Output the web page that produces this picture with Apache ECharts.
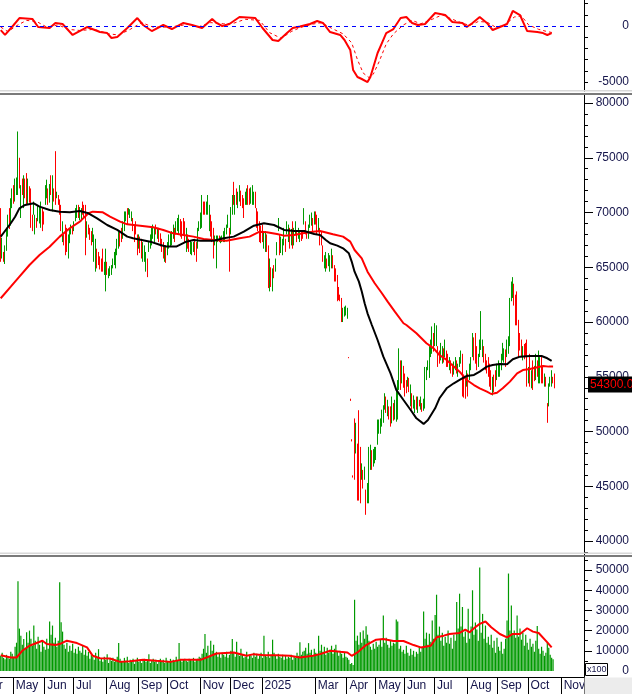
<!DOCTYPE html>
<html><head><meta charset="utf-8">
<script src="https://cdn.jsdelivr.net/npm/echarts@6/dist/echarts.min.js"></script>
<style>html,body{margin:0;padding:0;background:#fff;}#c{width:632px;height:694px;}</style>
</head><body><div id="c"></div>
<script>
// ---------- categories (trading sessions per month) ----------
const monthLabels = ['Apr','May','Jun','Jul','Aug','Sep','Oct','Nov','Dec','2025','Feb','Mar','Apr','May','Jun','Jul','Aug','Sep','Oct','Nov'];
const sessionsPerMonth = [9,22,20,23,22,20,23,21,22,17,20,22,20,20,21,23,21,21,23,16];
const unlabelledMonths = ['Feb'];

// ---------- tick labels ----------
const macdTickLabels = [0, -5000];
const macdTicks = [2000, 1000, 0, -1000, -2000, -3000, -4000, -5000];
const priceTickLabels = [40000, 45000, 50000, 55000, 60000, 65000, 70000, 75000, 80000];
const priceMinorTicks = [39000,41000,42000,43000,44000,46000,47000,48000,49000,51000,52000,53000,54000,56000,57000,58000,59000,61000,62000,63000,64000,66000,67000,68000,69000,71000,72000,73000,74000,76000,77000,78000,79000];
const volumeTickLabels = [0, 10000, 20000, 30000, 40000, 50000];
const volumeMinorTicks = [5000, 15000, 25000, 35000, 45000, 55000];

// ---------- price bars [open, close, low, high] ----------
const barsA = [
[70000,65800,65500,70400],[65900,67500,65800,67700],[66300,65600,65500,66400],[65400,66900,65300,67000],
[66600,68500,66500,68600],[67900,69600,67800,69800],[70200,68700,68500,70400],[68900,71100,68800,71300],
[70500,72000,70400,72200],[72300,71000,70800,72500],[71100,72900,71000,73100],[71700,73000,71600,73200],
[71800,75600,71600,77400],[74800,72400,72200,75000]];
const barsB = [
[69600,72400,69500,72500],[73000,71700,71600,73100],[70500,73300,70400,73400],[73000,71400,71300,73100],[73500,70800,70700,73600],[70800,73000,70700,73100],[72300,71000,70900,72400],
[72100,68700,68600,72200],[69700,68400,68300,69800],[69900,70900,69800,71000],[68100,69700,68000,69800],[69400,68700,68600,69500],[69300,70600,69200,70700],[69100,70400,69000,70500],
[68700,70900,68600,71000],[70300,68400,68300,70400],[70000,69000,68900,70100],[70800,72400,70700,72500],[71400,72900,71300,73000],[72100,70800,70700,72200],[71000,72500,70900,72600],
[73300,71700,71600,73400],[70200,73300,70100,73400],[72100,71100,71000,72200],[73000,70900,70700,75600],[71400,71800,71300,71900],[71500,70800,70700,71600],[71100,69900,69800,71200],
[70600,68400,68300,70700],[67400,69100,67300,69200],[67900,67100,67000,68000],[68800,66200,66100,68900],[68500,66500,66400,68600],[65900,67900,65800,68000],[67300,68500,67200,68600],
[68100,68800,68000,68900],[68600,68100,68000,68700],[68400,69100,68300,69200],[69300,70300,69200,70400],[69600,70600,69500,70700],[70600,69600,69500,70700],[69400,70400,69300,70500],
[69300,70300,69200,70400],[70900,69900,69800,71000],[70600,69600,69500,70700],[70400,66300,66100,70700],[67800,69100,67700,69200],[68800,68100,68000,68900],[68500,67600,67500,68600],
[68200,67100,67000,68300],[67400,68500,67300,68600],[65600,67900,65500,68000],[64700,67500,64600,67600],[66600,65000,64900,66700],[66300,65300,65200,66400],[65900,64900,64800,66000],
[65700,64700,64600,65800],[66600,64700,64600,66700],[64400,65400,64300,65500],[63000,66600,62800,66700],[65400,64400,64300,65500],[64100,64800,64000,64900],[64300,65000,64200,65100],
[64400,65100,64300,65200],[65000,65700,64900,65800],[65300,66300,65200,66400],[65000,66600,64900,66700],[66200,67500,66100,67600],[66800,68200,66700,68300],[68200,67000,66900,68300],
[68500,67400,67300,68600],[67700,69100,67600,69200],[68400,70000,68300,70100],[69300,70000,69200,70100],[70300,69000,68900,70400],[69900,70300,69800,70400],[69600,70200,69500,70300],
[69300,70000,69200,70100],[69400,68400,68300,69500],[68800,67400,67300,68900],[69100,68100,68000,69200],[67900,66200,66100,68000],[66800,67900,66700,68000],[67700,66400,66300,67800],
[67500,65900,65800,67600],[65600,67200,65500,67300],[65600,66900,65500,67000],[64700,66300,64600,66400],[65700,64200,64100,65800],[66500,67200,66400,67300],[66800,67900,66700,68000],
[67100,68500,67000,68600],[67700,68800,67600,68900],[67400,68500,67300,68600],[68800,68100,68000,68900],[67700,68500,67600,68600],[68500,67400,67300,68600],[68000,67000,66900,68100],
[67500,66500,66400,67600],[67200,65900,65800,67300],[65600,66900,65500,67000],[66900,65500,65400,67000],[66200,67200,66100,67300],[66800,67900,66700,68000],[67000,68100,66900,68200],
[67100,68200,67000,68300],[67700,68800,67600,68900],[68500,67400,67300,68600],[68100,69100,68000,69200],[68400,69400,68300,69500],[68100,69700,68000,69800],[69300,67900,67800,69400],
[69100,67700,67600,69200],[69400,68100,68000,69500],[69100,67400,67300,69200],[66500,68500,66400,68600],[67900,66800,66700,68000],[67500,66500,66400,67600],[66300,67300,66200,67400],
[66200,67200,66100,67300],[66500,67200,66400,67300],[67500,66200,66100,67600],[67200,65600,65500,67300],[66800,68500,66700,68600],[68400,69100,68300,69200],[68600,69900,68500,70000],
[68700,71500,68600,71600],[70900,69900,69800,71000],[70900,69900,69800,71000],[69900,70900,69800,71000],[69900,71500,69800,71600],[68400,70600,68300,70700],[69700,67900,67800,69800],
[69100,67400,67300,69200],[68500,65900,65800,68600],[67100,67800,67000,67900],[65000,67800,64900,67900],[67400,67800,67300,67900],[67800,67400,67300,67900],[67300,67700,67200,67800],
[67400,67800,67300,67900],[67400,68200,67300,68300],[67400,68500,67300,68600],[68100,68800,68000,68900],[68700,69700,68600,69800],[68500,64700,64600,68600],[68100,70400,68000,70500],
[69900,71500,69800,71600],[72700,70800,70700,72800],[69900,71500,69800,71600],[72100,70800,70700,72200],[70500,71800,70400,71900],[71100,72400,71000,72500],[71900,70700,70600,72000],
[71500,70500,70400,71600],[71200,69600,69500,71300],[70800,71800,70700,71900],[70800,72100,70700,72200],[72400,70800,70700,72500],[72100,70800,70700,72200],[70900,72200,70800,72300],
[70800,72400,70700,72500],[70800,71800,70700,71900],[71800,70500,70400,71900],[70300,68700,68600,70400],[70000,68400,68300,70100],[69100,67400,67300,69200],[68700,67300,67200,68800],
[68800,67400,67300,68900],[66800,68200,66700,68300],[66500,68200,66400,68300],[67900,66500,66400,68000],[66900,63200,63100,67000],[62900,65700,62800,65800],[64900,63300,63200,65000],
[62900,64800,62800,64900],[65100,64100,64000,65200],[64700,65700,64600,65800],[66200,67200,66100,67300],[68400,69400,68300,69500],[67900,66200,66100,68000],[66400,67700,66300,67800],
[66200,67500,66100,67600],[67100,68500,67000,68600],[67500,66500,66400,67600],[68100,69100,68000,69200],[67400,68800,67300,68900],[68500,66800,66700,68600],[67100,68400,67000,68500],
[69100,66800,66700,69200],[67100,68500,67000,68600],[68100,69100,68000,69200],[68200,67400,67300,68300],[67700,68500,67600,68600],[67400,68200,67300,68300],[68200,67500,67400,68300],
[68200,67700,67600,68300],[69000,70300,68900,70400],[69100,68100,68000,69200],[68200,67700,67600,68300],[67700,68800,67600,68900],[68700,69700,68600,69800],[68900,69900,68800,70000],
[69400,68400,68300,69500],[69000,70000,68900,70100],[70000,69000,68900,70100],[69700,68100,68000,69800],[68300,69400,68200,69500]];
const barsC = [
[68500,67100,67000,68600],[68200,67100,67000,68300],[66900,65600,65500,67000],[65000,66000,64900,66100],[64700,66300,64600,66400],
[65700,65000,64900,65800],[65200,66200,65100,66300],[64700,66000,64600,66100],[65000,66600,64900,66700],[66000,65000,64900,66100],
[65100,63800,63700,65200],[64800,63800,63700,64900],[64200,62000,61900,64300],[63100,62100,62000,63200],[62400,62000,61900,62500],
[62100,60100,60000,62200],[60100,61200,60000,61300],[60600,61300,60500,61400],[60700,61400,60600,61500],[60400,61200,60300,61300]];
const barsD = [
[56800,56700,56700,56800],[53000,52800,52800,53000],[49300,49100,49100,49300],[46000,45800,45800,46000],
[51100,45700,45600,51200],[48100,50700,48000,50800],[48800,43800,43700,48900],[51800,43800,43700,51950],[48500,43600,43450,48600],[45700,47000,45600,47100],[46400,44900,44800,46500],
[45700,46700,45600,46800],[44600,42500,42400,44700],[43500,45200,43450,45300],[43500,48500,43450,48600],[46600,48700,46500,48800],[48200,46600,46500,48300],[46900,48300,46800,48400],
[47200,48500,47100,48600],[47500,48500,47400,48600],[48900,51000,48800,51100],[49900,51000,49800,51100],[49900,51100,49800,51200],[50500,51900,50450,52000],[50900,52300,50800,52400],
[52100,53400,52000,53500],[53100,51800,51700,53200],[51500,52800,51400,52900],[52200,51200,51100,52300],[52200,50500,50450,52300],[50800,53100,50750,53200],[52500,51100,51000,52600],
[51200,52800,51100,52900],[51000,53700,50900,53800],[51200,54600,51100,54700],[53900,57500,53800,57600],[56400,53900,53800,56500],[54500,56400,54400,56500],[55900,54100,54000,56000],
[55200,53300,53200,55300],[54600,53600,53500,54700],[54200,54900,54100,55000],[54800,53700,53600,54900],[52400,54200,52300,54300],[53400,52100,52000,53500],[52200,53200,52100,53300],
[51800,52800,51700,52900],[53100,52100,52000,53200],[51800,53100,51700,53200],[52800,52400,52300,52900],[52100,53100,52000,53200],[52500,51900,51800,52600],[52000,52900,51900,53000],
[52200,55800,52100,55900],[54800,55800,54700,55900],[55700,56400,55600,56500],[55000,57700,54900,57800],[56900,58300,56800,58400],[57200,59500,57100,59600],[58900,57400,57300,59000],
[57900,59800,57800,59900],[57900,59600,57800,59700],[57700,56000,55900,57800],[57300,56300,56200,57400],[56600,58000,56500,58100],[56300,57700,56200,57800],[57500,56400,56300,57600],
[56900,58300,56800,58400],[57300,56000,55900,57400],[57000,56000,55900,57100],[55700,56700,55600,56800],[56400,55400,55300,56500],[56100,55100,55000,56200],[55300,56300,55200,56400],
[55700,56700,55600,56800],[56400,55400,55300,56500],[55100,56100,55000,56200],[56000,56700,55900,56800],[56300,57300,56200,57400],[57000,53300,53200,57100],[55100,53200,53100,55200],
[54900,53100,53000,55000],[54200,55500,54100,55600],[55200,53300,53200,55300],[54800,56100,54700,56200],[55700,56700,55600,56800],[56900,58900,56800,59000],[58500,56600,56500,58600],
[58900,56300,56200,59000],[57700,55700,55600,57800],[56000,57000,55900,57100],[56900,58300,56800,58400],[57500,60900,57450,61000],[56900,58300,56800,58400],[57700,56400,56300,57800],
[57000,55700,55600,57100],[56400,55400,55300,56500],[56700,55100,55000,56800],[56100,54200,54100,56200],[55500,53900,53800,55600],[53400,54900,53300,55000],[55100,53700,53600,55200],
[55500,54200,54100,55600],[54800,56100,54700,56200],[55100,56400,55000,56500],[55100,56100,55000,56200],[55700,57000,55600,57100],[56600,58000,56500,58100],[56400,57500,56300,57600],
[57400,56000,55900,57500],[56900,58300,56800,58400],[57200,58600,57100,58700],[57900,62100,57800,62200],[62000,63600,61900,63700],[62300,64000,62200,64100],[63400,61600,61500,63500],
[62400,59800,59700,62500],[62700,59800,59700,62800],[60100,56900,56800,60200],[58900,57500,57400,59000],[58300,56900,56800,58400],[56600,57700,56500,57800],[57900,56700,56600,58000],
[58000,56900,56800,58100],[58300,54200,54100,58400],[54500,55800,54400,55900],[57000,54200,54100,57100],[54000,55500,53950,55600],[56400,53900,53800,56500],[55900,54700,54600,56000],
[54800,57000,54700,57100],[56400,55100,55000,56500],[54500,57300,54400,57400],[54500,56700,54400,56800],[56700,54500,54400,56800],[55800,54500,54400,55900],[54200,55200,54100,55300],
[54900,54200,54100,55000],[52500,50900,50800,52600],[52400,54300,52300,54400],[54200,54900,54100,55000],[54200,55500,54100,55600],[54900,54500,54400,55000],[55100,54300,53950,55300]];

// ---------- volume (x100) ----------
const volumes = [
7500,9000,6500,5800,8000,7000,6000,9500,8500,7000, 12000,14000,44500,21000,17500,13000,15800,11000,19200,14000,
20000,16000,12500,22500,15000,11000,17000,13000,9500,14500, 12000,10500,16000,11000,24500,18000,22500,14000,16500,12000,
15000,44000,24200,19500,13000,11000,14000,9500,12500,10000, 13500,9000,11000,8500,12000,10000,9000,12500,8000,10500,
7500,9500,6000,8000,7000,5500,9000,6500,10800,5000, 6000,4500,7000,5500,8300,4000,6000,5000,6500,4500,
5500,7000,13800,6000,5000,4500,6500,5000,7000,4000, 5500,4500,6000,3500,5000,6500,4500,5500,4000,5000,
6000,4500,5500,8300,4000,5000,6000,4500,5500,3500, 5000,6000,4500,5500,4000,6500,5000,4500,6000,5000,
5500,4500,7000,5000,13800,6000,4500,5500,6000,5000, 4500,6000,5500,5000,6500,4500,5500,6000,7000,6500,
8500,11000,18300,9000,12500,7500,15000,10000,13000,8000, 9500,7000,8500,6500,9000,8000,7000,9500,6500,8000,
10000,15800,9000,7000,14500,8500,7500,11000,8000,6500, 7000,9500,6000,8000,7500,6500,9000,7000,8500,6000,
7500,9000,6500,17500,8000,7000,9500,6500,8000,15500, 9000,7500,6000,8500,7000,6500,8000,5500,7500,6000,
7000,6500,8000,5500,7000,6500,9000,7500,14200,8000, 9500,10000,11500,8500,13800,9000,10500,7500,11000,9000,
8500,17500,10000,13000,9500,12000,8000,11500,9000,10500, 12500,8500,11000,13000,9500,7500,10000,8500,6500,9000,
7000,6500,5500,3500,4000,3000,35300,15000,17500,13000, 19200,14000,20000,16000,22200,18000,15000,12000,10500,13500,
11000,14500,12000,13000,15500,12000,27500,14000,16500,13000, 11500,15000,12500,14000,13500,25500,24500,11000,12500,9500,
10500,8500,12500,9000,7500,11000,8000,10000,7000,9500, 8500,12000,9500,11500,29500,16000,19000,13000,18500,14500,
25000,16000,27800,37800,18000,22000,15000,19000,12500,17000, 14000,20000,13500,16500,11000,18000,15000,34200,21000,38300,
22000,31700,17000,19500,14000,30800,16000,22000,40000,18000, 24000,20500,15000,51300,19000,28300,16000,22500,14000,17000,
13000,18000,11500,15000,9000,16500,12000,10000,14500,8500, 11000,16000,25000,48300,20000,32500,18000,20000,16500,27500,
17000,21000,15500,19000,12500,18000,14000,10500,16000,12000, 13500,9500,15000,22300,11000,8500,12000,10000,7500,9000,
14000,11500,8000,6500,5800];

// ---------- lines: [session index, value] ----------
const maShort = [[0,67800],[7,69020],[10,69620],[13,70380],[17,70690],[23,70840],[27,70540],[34,70230],[41,70080],[48,70020],[55,70140],[61,69930],[67,69470],[74,68860],[81,68410],[88,67800],[92,67650],[104,67340],[111,67040],[115,66890],[122,66890],[129,67340],[134,67490],[139,67430],[148,67430],[155,67650],[162,67800],[169,68250],[176,68800],[183,69020],[190,68860],[197,68410],[204,68320],[211,68320],[218,68040],[222,67950],[226,67490],[229,67190],[234,66980],[238,66730],[242,66280],[244,65520],[246,64600],[249,63690],[251,62780],[253,61710],[255,60800],[258,59730],[262,58360],[266,56840],[271,55320],[275,53800],[280,52880],[285,51970],[289,51210],[294,50700],[297,51060],[302,52120],[305,53040],[310,53950],[315,54410],[319,54710],[324,55080],[329,55170],[333,55470],[338,55930],[342,56080],[347,56170],[352,56140],[356,56600],[361,56840],[368,56900],[373,56900],[376,56900],[380,56690],[383,56450]];
const maLong = [[0,62170],[7,63230],[13,64150],[20,65210],[27,66120],[34,66880],[41,67800],[48,68560],[55,69170],[61,69930],[64,70080],[71,70020],[76,69620],[83,69170],[88,68920],[97,68800],[106,68650],[113,68410],[120,68100],[127,67950],[134,67800],[141,67580],[148,67490],[157,67430],[166,67650],[173,67800],[180,68250],[185,68190],[192,68040],[197,67890],[204,67950],[210,68100],[217,68250],[222,68320],[231,68010],[238,67800],[243,67340],[246,66580],[251,65820],[255,64600],[260,63540],[265,62630],[269,61870],[274,60950],[280,59890],[282,59730],[289,58970],[296,58060],[301,57600],[305,56990],[310,56540],[315,55930],[319,55470],[324,54710],[329,54250],[333,53950],[338,53650],[341,53430],[345,53550],[349,53950],[354,54560],[359,55320],[363,55620],[368,55710],[373,55870],[377,55990],[381,55930],[384,55930]];
const volumeMa = [[0,7830],[7,6670],[11,6670],[15,10000],[20,12500],[29,15000],[32,13330],[38,12830],[41,13330],[46,15000],[53,13830],[60,11670],[64,7500],[69,6330],[76,6170],[83,4500],[90,4830],[99,5500],[108,5000],[118,4500],[125,5500],[139,5500],[150,8670],[162,9170],[171,7500],[176,8330],[183,7830],[192,7830],[201,7500],[208,6670],[217,7500],[222,8330],[229,10000],[236,9500],[241,9170],[244,7500],[248,9170],[254,12830],[261,15500],[266,15830],[273,14830],[280,14830],[287,12830],[292,11670],[299,12500],[303,16670],[308,17500],[312,18330],[319,18830],[323,20500],[326,19170],[329,21170],[333,23330],[337,24500],[341,21670],[347,18330],[352,16670],[356,18330],[361,18330],[366,21170],[370,19500],[374,18830],[380,14170],[383,11670]];
const macdLine = [[0,-360],[3,-800],[9,90],[13,710],[22,630],[26,-90],[34,-180],[38,270],[43,180],[50,-800],[60,-90],[69,-540],[74,-630],[77,-1070],[81,-980],[88,-180],[95,710],[99,90],[105,-450],[113,90],[119,-270],[127,270],[133,90],[140,-180],[147,630],[150,270],[154,0],[159,180],[166,800],[177,710],[182,-180],[189,-1250],[193,-1340],[199,-630],[203,-180],[208,-50],[215,180],[220,450],[224,270],[229,-540],[236,-800],[239,-1250],[243,-2140],[245,-3930],[248,-4550],[251,-4730],[255,-5000],[257,-4550],[262,-2410],[265,-1520],[268,-630],[273,-270],[278,710],[282,800],[286,270],[290,90],[295,180],[302,1160],[309,980],[314,360],[321,270],[324,-90],[328,270],[333,800],[338,270],[342,-360],[347,-90],[352,180],[356,1340],[361,980],[366,-450],[373,-540],[377,-630],[380,-800],[383,-630]];
const macdSignal = [[0,-100],[5,-500],[12,100],[18,500],[25,400],[32,-100],[40,100],[47,-300],[55,-400],[65,-300],[75,-700],[82,-800],[90,-300],[98,300],[106,-100],[115,-100],[123,0],[130,150],[138,-50],[146,300],[155,200],[162,250],[170,600],[180,500],[187,-600],[195,-1100],[202,-500],[208,-150],[216,150],[223,300],[230,-200],[238,-700],[244,-1500],[248,-3000],[252,-4200],[256,-4600],[259,-4300],[263,-3200],[268,-1600],[273,-700],[280,100],[286,500],[292,200],[300,600],[307,1000],[314,600],[320,300],[326,50],[332,400],[338,350],[344,-100],[350,50],[357,800],[362,900],[367,100],[374,-300],[380,-500],[384,-600]];

// ---------- build ----------
const categories = [];
const monthStart = new Map();
monthLabels.forEach((m, i) => {
  for (let d = 0; d < sessionsPerMonth[i]; d++) {
    if (d === 0 && i > 0 && !unlabelledMonths.includes(m)) monthStart.set(categories.length, m);
    categories.push(m + ' #' + (i + 1) + '.' + (d + 1));
  }
});
const priceBars = barsA.concat(barsB, barsC, barsD);
const lastClose = priceBars[priceBars.length - 1][1];

const GREEN = '#009900', RED = '#ff0000', TXT = '#14144a';
const FONT = '"Liberation Sans", Arial, sans-serif';
const plain = (v) => String(v);
const lab = (extra) => Object.assign({color: TXT, fontSize: 12, fontFamily: FONT, align: 'right', margin: 45, formatter: plain}, extra || {});
const line = {show: true, lineStyle: {color: '#000', width: 1}};

const PMIN = 38730, PMAX = 80730;
const G = (top, height) => ({left: 0, right: 48, top: top, height: height, outerBoundsMode: 'none', containLabel: false});

const chart = echarts.init(document.getElementById('c'), null, {renderer: 'canvas'});
chart.setOption({
  animation: false,
  backgroundColor: '#ffffff',
  grid: [G(0, 91), G(95, 460), G(557, 120)],
  xAxis: [
    {gridIndex: 0, type: 'category', data: categories, show: false},
    {gridIndex: 1, type: 'category', data: categories, show: false},
    {gridIndex: 2, type: 'category', data: categories, boundaryGap: true,
     axisLine: {show: true, onZero: false, lineStyle: {color: '#000', width: 1}},
     axisTick: {show: true, interval: (i) => monthStart.has(i), length: 17, inside: false, lineStyle: {color: '#000'}},
     axisLabel: {interval: (i) => monthStart.has(i), formatter: (v, i) => monthStart.get(i) || '',
                 align: 'left', margin: 3, padding: [0, 0, 0, 2], color: TXT, fontSize: 12, fontFamily: FONT},
     splitLine: {show: false}}
  ],
  yAxis: [
    {gridIndex: 0, position: 'right', min: -5800, max: 2320, axisLine: line,
     axisTick: {show: true, customValues: macdTicks, length: 4, lineStyle: {color: '#000'}},
     axisLabel: lab({customValues: macdTickLabels}), splitLine: {show: false}},
    {gridIndex: 1, position: 'right', min: PMIN, max: PMAX, axisLine: line,
     axisTick: {show: true, customValues: priceTickLabels, length: 9, lineStyle: {color: '#000'}},
     axisLabel: lab({customValues: priceTickLabels}), splitLine: {show: false}},
    {gridIndex: 1, position: 'right', min: PMIN, max: PMAX, axisLine: {show: false},
     axisTick: {show: true, customValues: priceMinorTicks, length: 4, lineStyle: {color: '#000'}},
     axisLabel: {show: false}, splitLine: {show: false}},
    {gridIndex: 1, position: 'right', min: PMIN, max: PMAX, axisLine: {show: false}, axisTick: {show: false},
     axisLabel: {customValues: [lastClose], formatter: (v) => Number(v).toFixed(2), color: RED, fontSize: 12,
                 fontFamily: FONT, backgroundColor: '#000', padding: [2, 4, 2, 2], margin: 4, align: 'left'},
     splitLine: {show: false}},
    {gridIndex: 2, position: 'right', min: -3000, max: 56500, axisLine: line,
     axisTick: {show: true, customValues: volumeTickLabels, length: 8, lineStyle: {color: '#000'}},
     axisLabel: lab({customValues: volumeTickLabels}), splitLine: {show: false}},
    {gridIndex: 2, position: 'right', min: -3000, max: 56500, axisLine: {show: false},
     axisTick: {show: true, customValues: volumeMinorTicks, length: 4, lineStyle: {color: '#000'}},
     axisLabel: {show: false}, splitLine: {show: false}}
  ],
  series: [
    {type: 'line', xAxisIndex: 0, yAxisIndex: 0, data: macdSignal, symbol: 'none', z: 3,
     lineStyle: {color: RED, width: 1, type: [3, 3]}},
    {type: 'line', xAxisIndex: 0, yAxisIndex: 0, data: macdLine, symbol: 'none', z: 4,
     lineStyle: {color: RED, width: 2},
     markLine: {silent: true, symbol: ['none', 'none'], label: {show: false},
                lineStyle: {color: '#0000ff', width: 1, type: [4, 4]}, data: [{yAxis: 0}]}},
    {type: 'candlestick', xAxisIndex: 1, yAxisIndex: 1, data: priceBars, barWidth: 1,
     itemStyle: {color: GREEN, color0: RED, borderColor: GREEN, borderColor0: RED, borderWidth: 1}},
    {type: 'line', xAxisIndex: 1, yAxisIndex: 1, data: maLong, symbol: 'none', z: 3,
     lineStyle: {color: RED, width: 2}},
    {type: 'line', xAxisIndex: 1, yAxisIndex: 1, data: maShort, symbol: 'none', z: 4,
     lineStyle: {color: '#000', width: 2}},
    {type: 'bar', xAxisIndex: 2, yAxisIndex: 4, data: volumes, barWidth: 1.2,
     itemStyle: {color: GREEN}},
    {type: 'line', xAxisIndex: 2, yAxisIndex: 4, data: volumeMa, symbol: 'none', z: 3,
     lineStyle: {color: RED, width: 2}}
  ],
  graphic: [
    {type: 'rect', shape: {x: 0, y: 90, width: 632, height: 1.5}, style: {fill: '#d8d8d8'}, z: 10},
    {type: 'rect', shape: {x: 0, y: 93, width: 632, height: 2}, style: {fill: '#7a7a7a'}, z: 10},
    {type: 'rect', shape: {x: 0, y: 552.5, width: 632, height: 1.5}, style: {fill: '#d8d8d8'}, z: 10},
    {type: 'rect', shape: {x: 0, y: 555, width: 632, height: 2}, style: {fill: '#7a7a7a'}, z: 10},
    {type: 'rect', shape: {x: 584.5, y: 677.5, width: 48, height: 17}, style: {fill: '#ececec'}, z: 10},
    {type: 'rect', shape: {x: 585.5, y: 663.5, width: 22, height: 12}, style: {fill: '#fff', stroke: '#000', lineWidth: 1}, z: 10},
    {type: 'text', x: 587, y: 665, z: 11, style: {text: 'x100', fill: TXT, font: '9px ' + FONT, verticalAlign: 'top'}},
    {type: 'text', x: -16, y: 680, z: 11, style: {text: 'Apr', fill: TXT, font: '12px ' + FONT, verticalAlign: 'top'}}
  ]
});
</script>
</body></html>
